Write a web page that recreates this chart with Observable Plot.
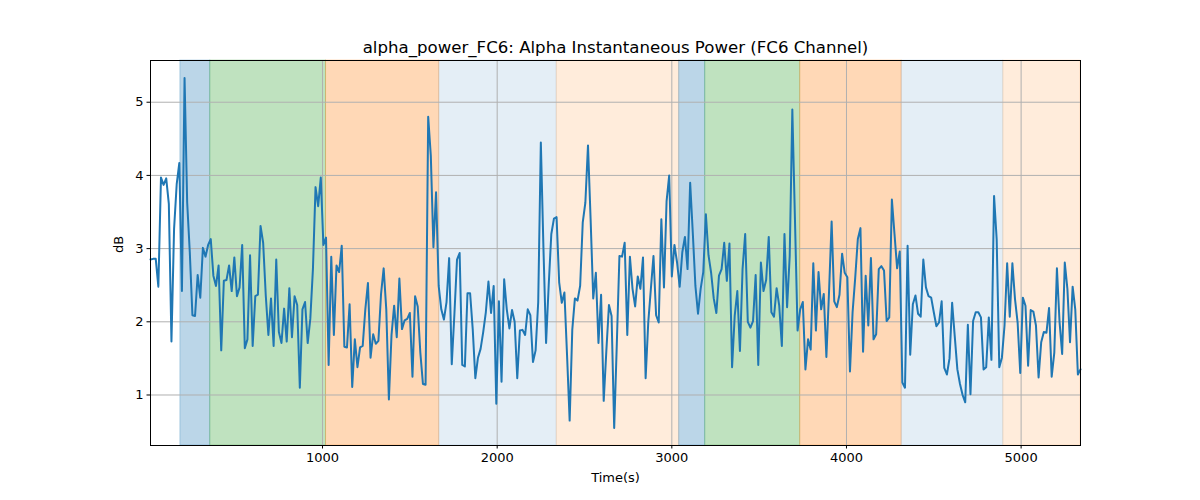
<!DOCTYPE html>
<html>
<head>
<meta charset="utf-8">
<script src="https://cdn.jsdelivr.net/npm/d3@7"></script>
<script src="https://cdn.jsdelivr.net/npm/@observablehq/plot@0.6"></script>
<style>
  html, body { margin: 0; padding: 0; background: #fff; }
  #chart { width: 1200px; height: 500px; }
  svg { font-family: "DejaVu Sans", sans-serif; }
</style>
</head>
<body>
<div id="chart"></div>
<script>
const titleText = "alpha_power_FC6: Alpha Instantaneous Power (FC6 Channel)";
const xLabel = "Time(s)";
const yLabel = "dB";
const xTicks = [1000, 2000, 3000, 4000, 5000];
const yTicks = [1, 2, 3, 4, 5];

// sampling grid of the series (seconds)
const sampleStart = 15;
const sampleStep = 15;

const power = [
2.85,2.86,2.86,2.48,3.97,3.87,3.96,3.61,1.73,3.27,3.88,4.17,2.42,5.33,3.63,2.95,2.09,2.08,2.64,2.33,
3.01,2.89,3.05,3.13,2.63,2.49,2.77,1.61,2.56,2.57,2.77,2.42,2.88,2.35,2.47,3.05,1.64,1.76,2.91,1.67,
2.35,2.37,3.31,3.08,2.36,1.82,2.32,1.67,2.85,1.86,1.71,2.18,1.73,2.46,1.79,2.35,2.23,1.10,2.17,2.27,
1.71,2.04,2.72,3.84,3.58,3.97,3.05,3.15,1.41,2.89,1.82,2.77,2.68,3.04,1.66,1.65,2.24,1.11,1.76,1.38,
1.65,1.67,2.17,2.53,1.51,1.83,1.70,1.74,2.38,2.73,2.17,0.94,1.82,2.22,1.79,2.59,1.90,2.02,2.04,2.12,
1.25,2.35,2.21,1.58,1.15,1.14,4.80,4.27,3.02,3.77,2.49,2.17,2.03,2.27,2.87,1.42,2.10,2.85,2.94,1.41,
1.39,2.39,2.39,1.90,1.23,1.51,1.63,1.86,2.13,2.55,2.12,2.49,0.88,2.28,1.18,2.58,2.17,1.91,2.16,2.00,
1.23,1.88,1.89,1.82,2.17,2.09,1.45,1.61,2.27,4.45,3.00,1.71,2.50,3.20,3.41,3.43,2.54,2.26,2.40,1.55,
0.65,1.89,2.32,2.29,2.49,3.36,3.63,4.41,3.40,2.32,2.67,1.71,2.37,0.92,1.60,2.23,2.08,0.55,1.70,2.90,
2.89,3.08,1.82,2.89,2.45,2.21,2.62,2.45,2.88,1.23,1.99,2.45,2.90,2.09,1.99,3.40,2.47,3.65,4.00,2.62,
3.05,2.81,2.48,2.95,3.16,2.72,3.90,3.22,2.49,2.11,2.45,2.68,3.47,2.91,2.67,2.32,2.12,2.63,2.72,3.08,
2.56,3.07,1.38,2.08,2.42,1.60,2.72,3.20,2.00,1.92,2.01,2.64,1.41,2.81,2.42,2.57,3.16,2.13,2.07,2.46,
2.22,1.67,3.20,2.20,2.90,4.90,3.40,1.88,2.17,2.27,1.35,1.76,1.62,2.80,1.88,2.68,2.17,2.38,1.52,2.40,
3.37,2.28,2.20,2.37,2.93,2.67,2.61,1.32,2.13,2.60,3.13,3.28,1.59,2.63,1.95,2.87,1.76,1.83,2.72,2.76,
2.70,2.01,2.06,3.67,3.20,2.73,2.96,1.17,1.10,3.04,1.55,2.24,2.36,2.11,2.07,2.85,2.47,2.35,2.33,2.13,
1.94,1.99,2.28,1.37,1.28,1.50,2.26,1.80,1.35,1.15,1.00,0.90,1.96,1.01,2.01,2.13,2.13,2.06,1.35,1.38,
2.06,1.48,3.72,3.13,1.38,1.51,1.95,2.80,2.07,2.80,2.31,1.99,1.30,2.33,2.22,1.40,2.16,2.14,1.95,1.24,
1.72,1.86,1.85,2.19,1.25,1.58,2.73,2.00,1.56,2.81,2.45,1.72,2.48,2.17,1.28,1.35
];

// shaded segments
const spanStart = [186, 357, 1020, 1668, 2341, 3042, 3191, 3735, 4316, 4898];
const spanEnd   = [357, 1020, 1668, 2341, 3042, 3191, 3735, 4316, 4898, 5340];
const spanColor = ["#1f77b4", "#2ca02c", "#ff7f0e", "#1f77b4", "#ff7f0e",
                   "#1f77b4", "#2ca02c", "#ff7f0e", "#1f77b4", "#ff7f0e"];
const spanAlpha = [0.3, 0.3, 0.3, 0.12, 0.15, 0.3, 0.3, 0.3, 0.12, 0.15];

const series = power.map((v, i) => ({t: sampleStart + sampleStep * i, v}));
const spans = spanStart.map((s, i) => ({x1: s, x2: spanEnd[i], c: spanColor[i], a: spanAlpha[i]}));

const chart = Plot.plot({
  width: 1200,
  height: 500,
  marginLeft: 150,
  marginRight: 120,
  marginTop: 60,
  marginBottom: 55,
  style: {fontFamily: "DejaVu Sans, sans-serif", fontSize: "13px", color: "black", background: "white"},
  x: {domain: [15, 5340]},
  y: {domain: [0.31, 5.57]},
  marks: [
    Plot.rect(spans, {x1: "x1", x2: "x2", fill: "c", fillOpacity: "a", stroke: "c", strokeOpacity: d => d.a * 0.9, strokeWidth: 1}),
    Plot.gridX(xTicks, {stroke: "#b0b0b0", strokeOpacity: 1, strokeWidth: 1}),
    Plot.gridY(yTicks, {stroke: "#b0b0b0", strokeOpacity: 1, strokeWidth: 1}),
    Plot.line(series, {x: "t", y: "v", stroke: "#1f77b4", strokeWidth: 2}),
    Plot.frame({stroke: "black", strokeWidth: 1}),
    Plot.axisX({ticks: xTicks, tickSize: 3.5, tickPadding: 3.5, fontSize: 13, label: null, tickFormat: d => String(d)}),
    Plot.axisY({ticks: yTicks, tickSize: 3.5, tickPadding: 3.5, fontSize: 13, label: null, tickFormat: d => String(d)}),
    Plot.text([xLabel], {frameAnchor: "bottom", dy: 36, text: d => d, fontSize: 13, fill: "black"}),
    Plot.text([yLabel], {frameAnchor: "left", dx: -32, rotate: -90, text: d => d, fontSize: 13, fill: "black"}),
    Plot.text([titleText], {frameAnchor: "top", dy: -8, lineAnchor: "bottom", text: d => d, fontSize: 16.6, fill: "black"})
  ]
});
document.getElementById("chart").appendChild(chart);
</script>
</body>
</html>
